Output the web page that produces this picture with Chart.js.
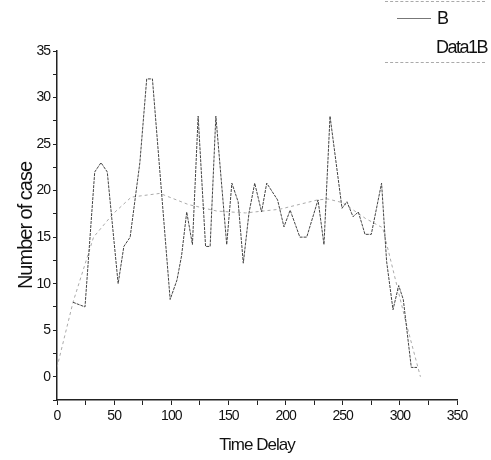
<!DOCTYPE html>
<html>
<head>
<meta charset="utf-8">
<script src="https://cdn.jsdelivr.net/npm/chart.js@4"></script>
<style>
  body { margin: 0; background: #fff; }
  #wrap { position: relative; width: 491px; height: 460px; }
  .leg { position: absolute; font-family: 'Liberation Sans', Arial, sans-serif; font-size: 18px; letter-spacing: -1.5px; color: #111; }
  .legline { position: absolute; height: 0; border-top: 1px dashed #aaa; }
</style>
</head>
<body>
<div id="wrap">
  <canvas id="grafico" width="491" height="460"></canvas>
  <div class="legline" style="left:385px; top:1px; width:100px;"></div>
  <div class="legline" style="left:397px; top:18px; width:34px; border-top:1px solid #777;"></div>
  <div class="leg" style="left:437px; top:8px;">B</div>
  <div class="leg" style="left:436px; top:37px;">Data1B</div>
  <div class="legline" style="left:385px; top:62px; width:100px;"></div>
</div>
<script>
// dados
const tempoB = [14, 24.5, 33, 38.5, 44, 53.5, 58.5, 64, 72.5, 78.5, 83.5, 99, 105, 109, 113.5, 118.5, 123.5, 130, 134, 139, 148.5, 153, 158.5, 163, 168, 173, 179, 183.5, 193, 198.6, 204, 212.5, 218.5, 228.4, 233.6, 238.9, 249.4, 253.7, 259, 263.7, 269.5, 275, 284, 288.4, 294, 299, 303, 310, 315];
const valoresB = [8, 7.5, 22, 23, 22, 10, 14, 15, 23, 32, 32, 8.3, 10.4, 13, 17.7, 14.2, 28, 14, 14, 28, 14.2, 20.8, 18.8, 12.2, 17.6, 20.8, 17.7, 20.8, 19, 16.1, 17.9, 15, 15, 19, 14.2, 28, 18.1, 18.8, 17.2, 17.7, 15.3, 15.3, 20.8, 12.4, 7.2, 9.8, 8.3, 1, 1];

const tempoFit = [0, 5, 14, 32, 49, 65, 90, 115, 140, 165, 195, 228, 237, 250, 270, 285, 295, 305, 318];
const valoresFit = [1, 3.5, 8, 15, 17.5, 19.3, 19.7, 18.5, 17.8, 17.6, 18, 19, 19.1, 18.7, 17, 16, 11, 6, 0];

const ticksX = [0, 50, 100, 150, 200, 250, 300, 350];
const ticksY = [0, 5, 10, 15, 20, 25, 30, 35];

const fonte = "'Liberation Sans', Arial, sans-serif";

function pares(xs, ys) {
    return xs.map((x, i) => ({ x: x, y: ys[i] }));
}

// texto condensado como no original
const condensado = {
    id: 'condensado',
    beforeInit: function(chart) { chart.ctx.letterSpacing = '-1px'; },
    beforeDraw: function(chart) { chart.ctx.letterSpacing = '-1px'; }
};

const ctx = document.getElementById('grafico');
new Chart(ctx, {
    type: 'line',
    data: {
        datasets: [
            {
                label: 'B',
                data: pares(tempoB, valoresB),
                borderColor: '#444',
                borderWidth: 1,
                borderDash: [3, 1],
                pointRadius: 0,
                tension: 0,
                fill: false
            },
            {
                label: 'Data1B',
                data: pares(tempoFit, valoresFit),
                borderColor: '#aaa',
                borderWidth: 1,
                borderDash: [3, 3],
                pointRadius: 0,
                tension: 0,
                fill: false
            }
        ]
    },
    plugins: [condensado],
    options: {
        responsive: false,
        animation: false,
        layout: { padding: { left: 0, top: 51, right: 34, bottom: 0 } },
        plugins: {
            legend: { display: false },
            tooltip: { enabled: false }
        },
        scales: {
            x: {
                type: 'linear',
                min: 0,
                max: 350,
                afterFit: function(s) { s.height = 60; },
                afterBuildTicks: function(s) {
                    const t = [];
                    for (let v = 0; v <= 350; v += 25) t.push({ value: v });
                    s.ticks = t;
                },
                grid: { drawOnChartArea: false, tickLength: 5, color: '#222', lineWidth: 1 },
                border: { color: '#222', width: 1.5 },
                ticks: {
                    autoSkip: false,
                    maxRotation: 0,
                    color: '#111',
                    font: { family: fonte, size: 14 },
                    padding: 3,
                    callback: function(v) { return ticksX.includes(v) ? String(v) : ''; }
                },
                title: { display: true, text: 'Time Delay', color: '#111', font: { family: fonte, size: 17 }, padding: { top: 8 } }
            },
            y: {
                min: -2.5,
                max: 35,
                afterFit: function(s) { s.width = 57; },
                afterBuildTicks: function(s) {
                    const t = [];
                    for (let v = -2.5; v <= 35; v += 2.5) t.push({ value: v });
                    s.ticks = t;
                },
                grid: { drawOnChartArea: false, tickLength: 4, color: '#222', lineWidth: 1 },
                border: { color: '#222', width: 1.5 },
                ticks: {
                    autoSkip: false,
                    color: '#111',
                    font: { family: fonte, size: 14 },
                    padding: 3,
                    callback: function(v) { return ticksY.includes(v) ? String(v) : ''; }
                },
                title: { display: true, text: 'Number of case', color: '#111', font: { family: fonte, size: 20 }, padding: { top: 14, bottom: 4 } }
            }
        }
    }
});
</script>
</body>
</html>
